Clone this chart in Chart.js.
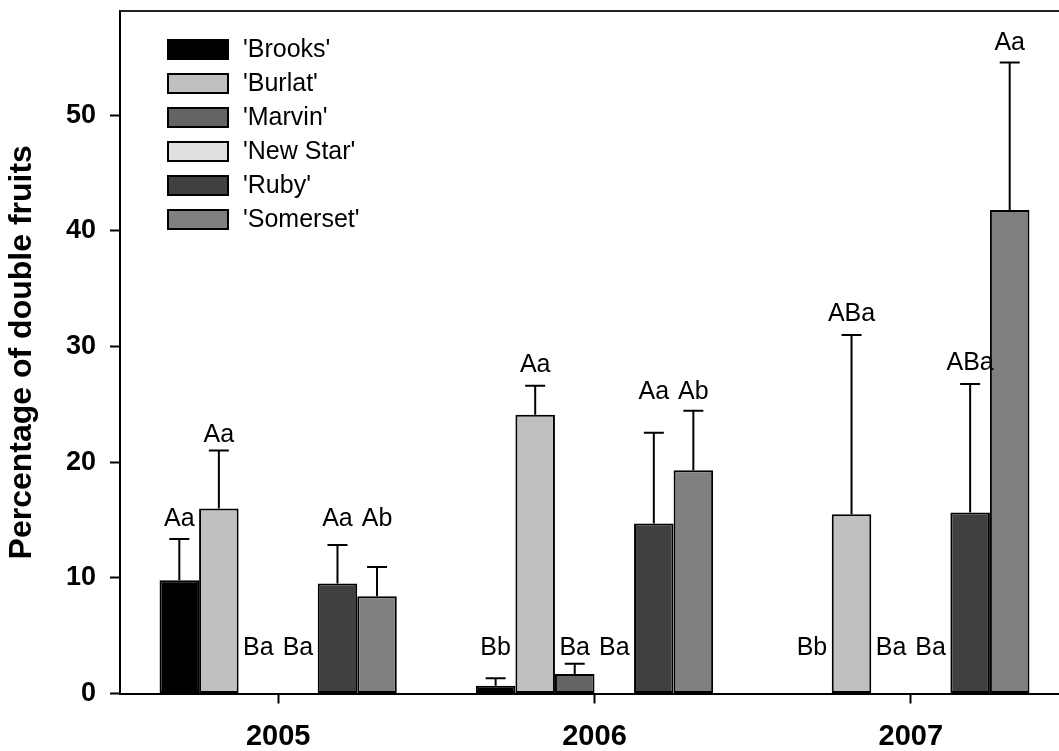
<!DOCTYPE html>
<html>
<head>
<meta charset="utf-8">
<script src="https://cdn.jsdelivr.net/npm/chart.js@4.4.1/dist/chart.umd.min.js"></script>
<style>
html,body{margin:0;padding:0;background:#fff;overflow:hidden;width:1059px;height:751px;}
canvas{display:block;}
</style>
</head>
<body>
<canvas id="c" width="1075" height="751"></canvas>
<script>
// ---- data ----
const years = ['2005', '2006', '2007'];
const cultivars = ["'Brooks'", "'Burlat'", "'Marvin'", "'New Star'", "'Ruby'", "'Somerset'"];
const colors = ['#000000', '#c0c0c0', '#646464', '#e0e0e0', '#404040', '#808080'];

const brooks   = [9.8, 0.67, 0];
const burlat   = [16.0, 24.1, 15.5];
const marvin   = [0, 1.69, 0];
const newStar  = [0, 0, 0];
const ruby     = [9.5, 14.7, 15.65];
const somerset = [8.4, 19.3, 41.8];

const brooksErr   = [3.55, 0.64, 0];
const burlatErr   = [5.0, 2.5, 15.5];
const marvinErr   = [0, 0.89, 0];
const newStarErr  = [0, 0, 0];
const rubyErr     = [3.33, 7.85, 11.1];
const somersetErr = [2.53, 5.15, 12.75];

const brooksLbl   = ['Aa', 'Bb', 'Bb'];
const burlatLbl   = ['Aa', 'Aa', 'ABa'];
const marvinLbl   = ['Ba', 'Ba', 'Ba'];
const newStarLbl  = ['Ba', 'Ba', 'Ba'];
const rubyLbl     = ['Aa', 'Aa', 'ABa'];
const somersetLbl = ['Ab', 'Ab', 'Aa'];

// height (data units) of each letter label's baseline
const brooksLblAt   = [14.5, 3.35, 3.3];
const burlatLblAt   = [21.7, 27.8, 32.2];
const marvinLblAt   = [3.3, 3.35, 3.3];
const newStarLblAt  = [3.3, 3.35, 3.3];
const rubyLblAt     = [14.45, 25.5, 28.0];
const somersetLblAt = [14.45, 25.5, 55.6];

const yTicks = [0, 10, 20, 30, 40, 50];
const yMax = 59;

const values = [brooks, burlat, marvin, newStar, ruby, somerset];
const errors = [brooksErr, burlatErr, marvinErr, newStarErr, rubyErr, somersetErr];
const letters = [brooksLbl, burlatLbl, marvinLbl, newStarLbl, rubyLbl, somersetLbl];
const letterAt = [brooksLblAt, burlatLblAt, marvinLblAt, newStarLblAt, rubyLblAt, somersetLblAt];

const FONT = "'Liberation Sans', Arial, sans-serif";

const datasets = cultivars.map((name, i) => ({
  label: name,
  data: values[i],
  backgroundColor: colors[i],
  borderColor: '#000000',
  borderWidth: ctx => (ctx.raw > 0 ? 2 : 0),
  borderSkipped: false,
  categoryPercentage: 0.75,
  barPercentage: 1.0
}));

const decorPlugin = {
  id: 'decor',
  afterDatasetsDraw(chart) {
    const ctx = chart.ctx;
    const ys = chart.scales.y;
    const area = chart.chartArea;
    ctx.save();
    // top frame line
    ctx.strokeStyle = '#222';
    ctx.lineWidth = 2;
    ctx.beginPath();
    ctx.moveTo(area.left, area.top);
    ctx.lineTo(area.right, area.top);
    ctx.stroke();
    // error bars (upper only)
    ctx.strokeStyle = '#000';
    ctx.lineWidth = 2;
    chart.data.datasets.forEach((ds, i) => {
      const meta = chart.getDatasetMeta(i);
      meta.data.forEach((bar, j) => {
        const e = errors[i][j];
        if (e > 0) {
          const yTop = ys.getPixelForValue(values[i][j] + e);
          ctx.beginPath();
          ctx.moveTo(bar.x, bar.y);
          ctx.lineTo(bar.x, yTop);
          ctx.moveTo(bar.x - 10, yTop);
          ctx.lineTo(bar.x + 10, yTop);
          ctx.stroke();
        }
      });
    });
    // letter labels
    ctx.fillStyle = '#000';
    ctx.font = '25px ' + FONT;
    ctx.textAlign = 'center';
    ctx.textBaseline = 'alphabetic';
    chart.data.datasets.forEach((ds, i) => {
      const meta = chart.getDatasetMeta(i);
      meta.data.forEach((bar, j) => {
        ctx.fillText(letters[i][j], bar.x, ys.getPixelForValue(letterAt[i][j]));
      });
    });
    // legend
    const bx = 167, bw = 62, bh = 21, row0 = 49.5, step = 34;
    chart.data.datasets.forEach((ds, i) => {
      const cy = row0 + i * step;
      ctx.fillStyle = ds.backgroundColor;
      ctx.fillRect(bx, cy - bh / 2, bw, bh);
      ctx.strokeStyle = '#000';
      ctx.lineWidth = 2;
      ctx.strokeRect(bx + 1, cy - bh / 2 + 1, bw - 2, bh - 2);
      ctx.fillStyle = '#000';
      ctx.textAlign = 'left';
      ctx.textBaseline = 'middle';
      ctx.font = '25px ' + FONT;
      ctx.fillText(ds.label, 243, cy + 1);
    });
    ctx.restore();
  }
};

new Chart(document.getElementById('c'), {
  type: 'bar',
  data: { labels: years, datasets: datasets },
  options: {
    responsive: false,
    animation: false,
    devicePixelRatio: 1,
    layout: { padding: { left: 0, top: 11, right: 6, bottom: 0 } },
    plugins: { legend: { display: false }, tooltip: { enabled: false } },
    scales: {
      x: {
        offset: true,
        grid: { display: true, drawOnChartArea: false, drawTicks: true, tickLength: 10, tickColor: '#000', tickWidth: 2, offset: false },
        border: { display: true, color: '#000', width: 2 },
        ticks: { color: '#000', font: { family: FONT, size: 29, weight: 'bold' }, padding: 16 },
        afterFit(scale) { scale.height = 751 - 693.5; scale.paddingLeft = 0; scale.paddingRight = 0; }
      },
      y: {
        min: 0,
        max: yMax,
        grid: { display: true, drawOnChartArea: false, drawTicks: true, tickLength: 10, tickColor: '#000', tickWidth: 2 },
        border: { display: true, color: '#000', width: 2 },
        ticks: { stepSize: 10, color: '#000', font: { family: FONT, size: 27, weight: 'bold' }, padding: 14 },
        afterBuildTicks(scale) { scale.ticks = yTicks.map(v => ({ value: v })); },
        title: {
          display: true,
          text: 'Percentage of double fruits',
          color: '#000',
          font: { family: FONT, size: 32, weight: 'bold' },
          padding: { top: 3, bottom: 0 }
        },
        afterFit(scale) { scale.width = 120; scale.paddingTop = 0; scale.paddingBottom = 0; }
      }
    }
  },
  plugins: [decorPlugin]
});
</script>
</body>
</html>
